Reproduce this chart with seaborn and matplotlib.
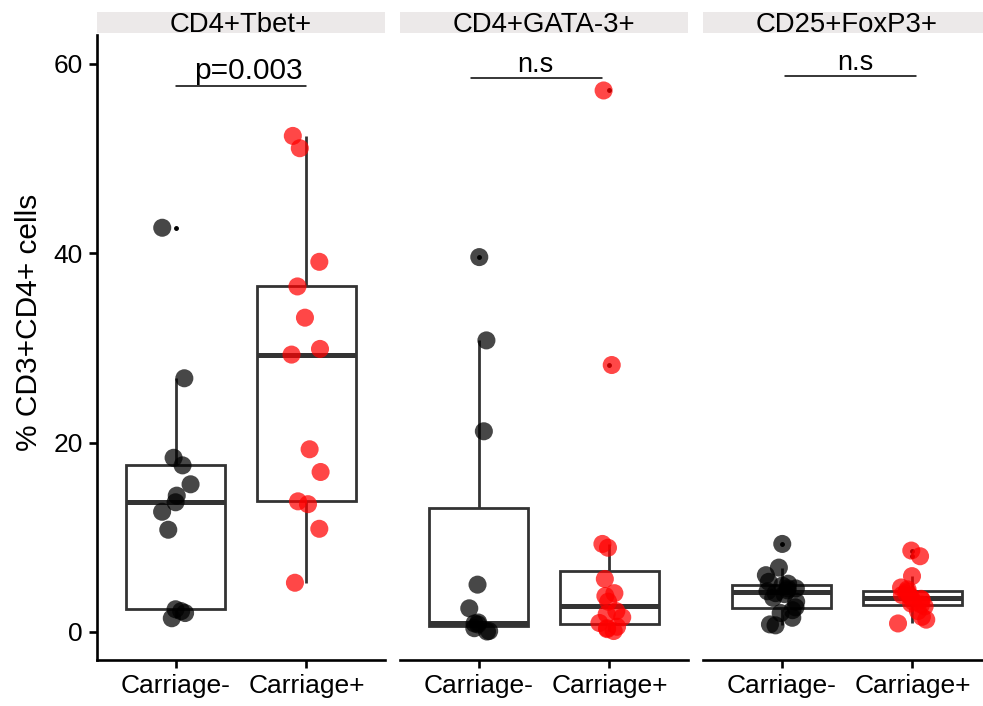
import numpy as np
import pandas as pd
import matplotlib
matplotlib.use("Agg")
import matplotlib.pyplot as plt
from matplotlib.patches import Rectangle
import seaborn as sns

# Facets and groups
panels = ["CD4+Tbet+", "CD4+GATA-3+", "CD25+FoxP3+"]
groups = ["Carriage-", "Carriage+"]

# % of CD3+CD4+ cells per subject
tbet_neg = [42.7, 26.8, 18.4, 17.6, 15.6, 14.4, 13.7, 12.7, 10.8, 2.4, 2.2, 2.0, 1.45]
tbet_pos = [52.4, 51.1, 39.1, 36.5, 33.2, 29.9, 29.3, 19.3, 16.9, 13.8, 13.5, 10.9, 5.2]
gata_neg = [39.6, 30.8, 21.2, 5.0, 2.5, 1.0, 0.9, 0.8, 0.4, 0.1, 0.05]
gata_pos = [57.2, 28.2, 9.3, 8.9, 5.6, 4.1, 3.8, 3.2, 2.2, 1.9, 1.55, 0.95,
            0.55, 0.4, 0.3, 0.1]
foxp3_neg = [9.3, 6.8, 6.0, 5.3, 5.1, 4.9, 4.6, 4.6, 4.4, 4.3, 4.1, 4.0, 3.6,
             3.2, 2.6, 2.3, 2.0, 1.5, 0.8, 0.7]
foxp3_pos = [8.6, 8.0, 5.9, 4.7, 4.5, 4.3, 4.1, 3.9, 3.8, 3.7, 3.5, 3.4, 3.2,
             3.0, 2.9, 2.7, 2.2, 1.6, 1.3, 0.9]

# Test results shown above each facet
p_labels = ["p=0.003", "n.s", "n.s"]

series = {
    ("CD4+Tbet+", "Carriage-"): tbet_neg,
    ("CD4+Tbet+", "Carriage+"): tbet_pos,
    ("CD4+GATA-3+", "Carriage-"): gata_neg,
    ("CD4+GATA-3+", "Carriage+"): gata_pos,
    ("CD25+FoxP3+", "Carriage-"): foxp3_neg,
    ("CD25+FoxP3+", "Carriage+"): foxp3_pos,
}
rows = []
for (cell, grp), vals in series.items():
    for v in vals:
        rows.append({"cell": cell, "group": grp, "value": v})
df = pd.DataFrame(rows)

sns.set_theme(style="ticks")
plt.rcParams["font.family"] = ["Liberation Sans", "DejaVu Sans"]
np.random.seed(7)

W, H = 983, 706
fig = plt.figure(figsize=(W / 100, H / 100), dpi=100)
fig.patch.set_facecolor("white")

lefts = [97, 400, 703]
pw = 288
top_px, bot_px = 35, 660
palette = {"Carriage-": "black", "Carriage+": "#FF0000"}

# bracket placement: (x start, x end, line y, text x, text y)
brackets = [(0.0, 1.0, 57.7, 0.56, 58.4),
            (-0.06, 0.94, 58.5, 0.43, 59.2),
            (0.03, 1.03, 58.7, 0.56, 59.4)]

axes = []
for i, (left, panel) in enumerate(zip(lefts, panels)):
    ax = fig.add_axes([left / W, 1 - bot_px / H, pw / W, (bot_px - top_px) / H])
    axes.append(ax)
    sub = df[df["cell"] == panel]
    sns.boxplot(data=sub, x="group", y="value", order=groups, ax=ax,
                color="white", linecolor="#333333", linewidth=2.0, width=0.75,
                showcaps=False, whis=1.5, fliersize=2.5,
                flierprops=dict(marker="o", markerfacecolor="black",
                                markeredgecolor="black"),
                medianprops=dict(linewidth=3.6, color="#333333"))
    sns.stripplot(data=sub, x="group", y="value", order=groups, hue="group",
                  hue_order=groups, palette=palette, jitter=0.12, size=13,
                  alpha=0.72, linewidth=0, ax=ax, legend=False, zorder=3)
    ax.set_xlim(-0.6, 1.6)
    ax.set_ylim(-2.96, 63.06)
    ax.set_xlabel("")
    ax.set_ylabel("")
    ax.set_yticks([0, 20, 40, 60])
    for s in ("top", "right"):
        ax.spines[s].set_visible(False)
    for s in ("left", "bottom"):
        ax.spines[s].set_linewidth(1.9)
        ax.spines[s].set_color("black")
    ax.tick_params(length=6, width=1.9, color="black", labelsize=19,
                   labelcolor="black", pad=4)
    if i > 0:
        ax.spines["left"].set_visible(False)
        ax.tick_params(axis="y", left=False, labelleft=False)

    # facet strip
    ax_h = bot_px - top_px
    ax.add_patch(Rectangle((0, (bot_px - 33) / ax_h), 1, 21 / ax_h,
                           transform=ax.transAxes, facecolor="#ECE9E9",
                           edgecolor="none", clip_on=False, zorder=0))
    ax.text(0.5, (bot_px - 32.5) / ax_h, panel, transform=ax.transAxes,
            ha="center", va="baseline", fontsize=19.8, color="black")

    # significance bracket
    x0, x1, ly, tx, ty = brackets[i]
    ax.plot([x0, x1], [ly, ly], color="black", lw=1.1, clip_on=False)
    ax.text(tx, ty, p_labels[i], ha="center", va="baseline",
            fontsize=21.5 if i == 0 else 19.5, color="black")

fig.text(29 / W, 1 - 322 / H, "% CD3+CD4+ cells", rotation=90,
         ha="center", va="center", fontsize=21.5, color="black")

fig.savefig("out.png", dpi=100, facecolor="white")
